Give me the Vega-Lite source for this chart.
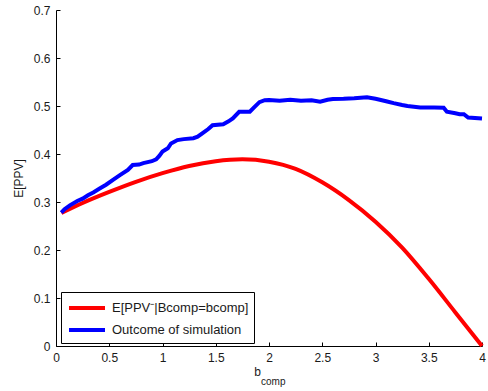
{
  "$schema": "https://vega.github.io/schema/vega-lite/v6.json",
  "autosize": {"type": "none"},
  "padding": {"left": 56, "top": 10, "right": 6, "bottom": 45},
  "width": 426,
  "height": 336,
  "background": "white",
  "config": {
    "view": {"stroke": null},
    "font": "Liberation Sans",
    "axis": {"labelFont": "Liberation Sans", "titleFont": "Liberation Sans", "labelFontSize": 12, "titleFontSize": 12, "labelColor": "#1a1a1a", "titleColor": "#1a1a1a", "titleFontWeight": "normal", "domainColor": "black", "tickColor": "black", "grid": false}
  },
  "datasets": {
    "red": [
      {"b": 0.05, "v": 0.277, "series": "E[PPV⁻|Bcomp=bcomp]"},
      {"b": 0.25, "v": 0.298, "series": "E[PPV⁻|Bcomp=bcomp]"},
      {"b": 0.5, "v": 0.321, "series": "E[PPV⁻|Bcomp=bcomp]"},
      {"b": 0.75, "v": 0.342, "series": "E[PPV⁻|Bcomp=bcomp]"},
      {"b": 1.0, "v": 0.360, "series": "E[PPV⁻|Bcomp=bcomp]"},
      {"b": 1.25, "v": 0.375, "series": "E[PPV⁻|Bcomp=bcomp]"},
      {"b": 1.5, "v": 0.385, "series": "E[PPV⁻|Bcomp=bcomp]"},
      {"b": 1.75, "v": 0.389, "series": "E[PPV⁻|Bcomp=bcomp]"},
      {"b": 2.0, "v": 0.384, "series": "E[PPV⁻|Bcomp=bcomp]"},
      {"b": 2.25, "v": 0.369, "series": "E[PPV⁻|Bcomp=bcomp]"},
      {"b": 2.5, "v": 0.341, "series": "E[PPV⁻|Bcomp=bcomp]"},
      {"b": 2.75, "v": 0.304, "series": "E[PPV⁻|Bcomp=bcomp]"},
      {"b": 3.0, "v": 0.259, "series": "E[PPV⁻|Bcomp=bcomp]"},
      {"b": 3.25, "v": 0.205, "series": "E[PPV⁻|Bcomp=bcomp]"},
      {"b": 3.5, "v": 0.140, "series": "E[PPV⁻|Bcomp=bcomp]"},
      {"b": 3.75, "v": 0.070, "series": "E[PPV⁻|Bcomp=bcomp]"},
      {"b": 4.0, "v": 0.0, "series": "E[PPV⁻|Bcomp=bcomp]"}
    ],
    "blue": [
      {"b": 0.05, "v": 0.278, "series": "Outcome of simulation"},
      {"b": 0.08, "v": 0.285, "series": "Outcome of simulation"},
      {"b": 0.13, "v": 0.293, "series": "Outcome of simulation"},
      {"b": 0.2, "v": 0.302, "series": "Outcome of simulation"},
      {"b": 0.25, "v": 0.307, "series": "Outcome of simulation"},
      {"b": 0.3, "v": 0.314, "series": "Outcome of simulation"},
      {"b": 0.35, "v": 0.32, "series": "Outcome of simulation"},
      {"b": 0.41, "v": 0.328, "series": "Outcome of simulation"},
      {"b": 0.47, "v": 0.336, "series": "Outcome of simulation"},
      {"b": 0.535, "v": 0.346, "series": "Outcome of simulation"},
      {"b": 0.6, "v": 0.356, "series": "Outcome of simulation"},
      {"b": 0.675, "v": 0.367, "series": "Outcome of simulation"},
      {"b": 0.72, "v": 0.377, "series": "Outcome of simulation"},
      {"b": 0.78, "v": 0.378, "series": "Outcome of simulation"},
      {"b": 0.82, "v": 0.381, "series": "Outcome of simulation"},
      {"b": 0.9, "v": 0.385, "series": "Outcome of simulation"},
      {"b": 0.94, "v": 0.389, "series": "Outcome of simulation"},
      {"b": 0.97, "v": 0.396, "series": "Outcome of simulation"},
      {"b": 1.0, "v": 0.405, "series": "Outcome of simulation"},
      {"b": 1.05, "v": 0.412, "series": "Outcome of simulation"},
      {"b": 1.08, "v": 0.422, "series": "Outcome of simulation"},
      {"b": 1.14, "v": 0.429, "series": "Outcome of simulation"},
      {"b": 1.2, "v": 0.431, "series": "Outcome of simulation"},
      {"b": 1.29, "v": 0.433, "series": "Outcome of simulation"},
      {"b": 1.33, "v": 0.436, "series": "Outcome of simulation"},
      {"b": 1.38, "v": 0.444, "series": "Outcome of simulation"},
      {"b": 1.43, "v": 0.452, "series": "Outcome of simulation"},
      {"b": 1.47, "v": 0.46, "series": "Outcome of simulation"},
      {"b": 1.57, "v": 0.462, "series": "Outcome of simulation"},
      {"b": 1.62, "v": 0.468, "series": "Outcome of simulation"},
      {"b": 1.66, "v": 0.474, "series": "Outcome of simulation"},
      {"b": 1.72, "v": 0.488, "series": "Outcome of simulation"},
      {"b": 1.82, "v": 0.488, "series": "Outcome of simulation"},
      {"b": 1.86, "v": 0.497, "series": "Outcome of simulation"},
      {"b": 1.91, "v": 0.508, "series": "Outcome of simulation"},
      {"b": 1.96, "v": 0.512, "series": "Outcome of simulation"},
      {"b": 2.0, "v": 0.5125, "series": "Outcome of simulation"},
      {"b": 2.1, "v": 0.511, "series": "Outcome of simulation"},
      {"b": 2.2, "v": 0.513, "series": "Outcome of simulation"},
      {"b": 2.3, "v": 0.511, "series": "Outcome of simulation"},
      {"b": 2.4, "v": 0.512, "series": "Outcome of simulation"},
      {"b": 2.48, "v": 0.509, "series": "Outcome of simulation"},
      {"b": 2.55, "v": 0.513, "series": "Outcome of simulation"},
      {"b": 2.6, "v": 0.5146, "series": "Outcome of simulation"},
      {"b": 2.7, "v": 0.515, "series": "Outcome of simulation"},
      {"b": 2.8, "v": 0.516, "series": "Outcome of simulation"},
      {"b": 2.92, "v": 0.518, "series": "Outcome of simulation"},
      {"b": 3.0, "v": 0.515, "series": "Outcome of simulation"},
      {"b": 3.1, "v": 0.51, "series": "Outcome of simulation"},
      {"b": 3.17, "v": 0.506, "series": "Outcome of simulation"},
      {"b": 3.25, "v": 0.502, "series": "Outcome of simulation"},
      {"b": 3.3, "v": 0.5, "series": "Outcome of simulation"},
      {"b": 3.42, "v": 0.497, "series": "Outcome of simulation"},
      {"b": 3.55, "v": 0.497, "series": "Outcome of simulation"},
      {"b": 3.64, "v": 0.4965, "series": "Outcome of simulation"},
      {"b": 3.67, "v": 0.488, "series": "Outcome of simulation"},
      {"b": 3.75, "v": 0.485, "series": "Outcome of simulation"},
      {"b": 3.79, "v": 0.483, "series": "Outcome of simulation"},
      {"b": 3.83, "v": 0.483, "series": "Outcome of simulation"},
      {"b": 3.87, "v": 0.476, "series": "Outcome of simulation"},
      {"b": 4.0, "v": 0.474, "series": "Outcome of simulation"}
    ],
    "sub": [{"t": "comp"}]
  },
  "layer": [
    {
      "data": {"name": "red"},
      "mark": {"type": "line", "strokeWidth": 4, "interpolate": "monotone"},
      "encoding": {
        "x": {"field": "b", "type": "quantitative", "scale": {"domain": [0, 4], "nice": false},
              "axis": {"values": [0, 0.5, 1, 1.5, 2, 2.5, 3, 3.5, 4], "format": "~g", "tickSize": -4, "labelPadding": 10, "title": "b", "titleX": 201, "titlePadding": 3, "labelFlush": false}},
        "y": {"field": "v", "type": "quantitative", "scale": {"domain": [0, 0.7], "nice": false},
              "axis": {"values": [0, 0.1, 0.2, 0.3, 0.4, 0.5, 0.6, 0.7], "format": "~g", "tickSize": -4, "labelPadding": 10, "title": "E[PPV]", "titlePadding": 8, "labelFlush": false}},
        "color": {"field": "series", "type": "nominal",
                  "scale": {"domain": ["E[PPV⁻|Bcomp=bcomp]", "Outcome of simulation"], "range": ["#ff0000", "#0000ff"]},
                  "legend": {"title": null, "orient": "none", "legendX": 5, "legendY": 282, "symbolType": "M-2,0H2", "symbolStrokeWidth": 4, "symbolSize": 324, "symbolOffset": 10, "labelFontSize": 13, "labelFont": "Liberation Sans", "labelColor": "#1a1a1a", "labelAlign": "left", "strokeColor": "black", "fillColor": "white", "padding": 5, "rowPadding": 3, "labelOffset": 14}}
      }
    },
    {
      "data": {"name": "blue"},
      "mark": {"type": "line", "strokeWidth": 4, "interpolate": "linear"},
      "encoding": {
        "x": {"field": "b", "type": "quantitative"},
        "y": {"field": "v", "type": "quantitative"},
        "color": {"field": "series", "type": "nominal"}
      }
    },
    {
      "data": {"name": "sub"},
      "mark": {"type": "text", "fontSize": 10, "font": "Liberation Sans", "color": "#1a1a1a", "baseline": "middle", "align": "left"},
      "encoding": {
        "x": {"datum": 1.925, "type": "quantitative"},
        "y": {"datum": -0.075, "type": "quantitative"},
        "text": {"field": "t"}
      }
    }
  ]
}
